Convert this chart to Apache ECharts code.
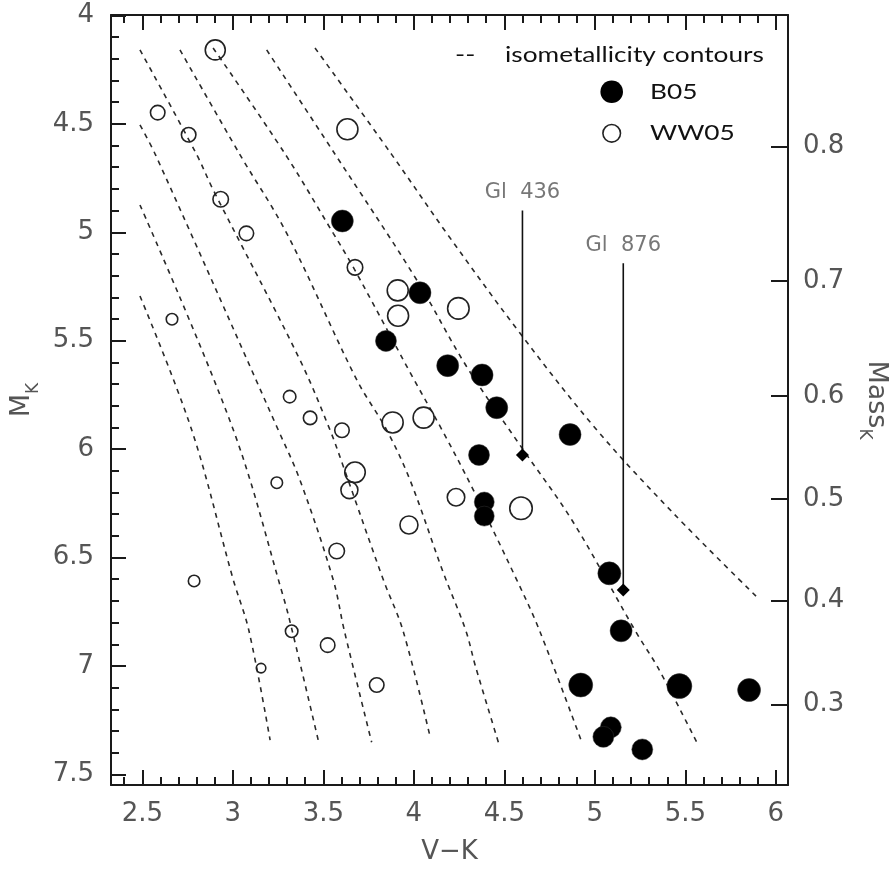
<!DOCTYPE html>
<html>
<head>
<meta charset="utf-8">
<script src="https://cdn.jsdelivr.net/npm/echarts@6/dist/echarts.min.js"></script>
<style>
html,body{margin:0;padding:0;background:#fff;}
#main{width:891px;height:871px;}
</style>
</head>
<body>
<div id="main"></div>
<script>
// ---------- axis ticks ----------
const xTickValues = [2.5, 3, 3.5, 4, 4.5, 5, 5.5, 6];
const yTickValues = [4, 4.5, 5, 5.5, 6, 6.5, 7, 7.5];
const massTickLabels = ['0.8', '0.7', '0.6', '0.5', '0.4', '0.3'];
const massTickMK = [4.605, 5.225, 5.754, 6.230, 6.699, 7.177];

// ---------- B05 (filled circles) ----------
const b05VK = [3.605, 4.034, 3.846, 4.187, 4.377, 4.458, 4.863, 4.360, 4.389, 4.389, 5.080, 5.145, 4.922, 5.467, 5.852, 5.088, 5.047, 5.262];
const b05MK = [4.948, 5.279, 5.501, 5.615, 5.658, 5.809, 5.933, 6.027, 6.244, 6.309, 6.573, 6.838, 7.088, 7.093, 7.111, 7.283, 7.327, 7.385];
const b05Marker = [22, 22, 21, 22, 22, 22, 22, 21, 20, 20, 23, 22, 24, 25, 23, 21, 21, 21];

// ---------- WW05 (open circles) ----------
const ww05VK = [2.903, 2.585, 2.756, 3.633, 2.933, 3.075, 3.675, 3.911, 3.913, 4.246, 2.664, 3.314, 3.427, 3.603, 3.883, 4.054, 3.675, 3.644, 3.243, 4.233, 4.592, 3.973, 3.574, 2.786, 3.325, 3.524, 3.156, 3.795];
const ww05MK = [4.159, 4.448, 4.550, 4.525, 4.848, 5.005, 5.162, 5.268, 5.385, 5.351, 5.401, 5.758, 5.856, 5.913, 5.877, 5.855, 6.107, 6.189, 6.155, 6.222, 6.273, 6.350, 6.470, 6.608, 6.840, 6.904, 7.010, 7.088];
const ww05Marker = [20, 14.5, 14.5, 21, 15.5, 14.5, 15.5, 21, 21, 21.5, 11.5, 12.5, 13.5, 14.5, 21, 21, 20.5, 17, 11.5, 17.5, 22.5, 18, 15.5, 11.5, 12.5, 14.5, 9.5, 14.5];

// ---------- highlighted stars ----------
const starNames = ['Gl  436', 'Gl  876'];
const starVK = [4.600, 5.157];
const starMK = [6.027, 6.650];
const starLabelMK = [4.900, 5.143];

// ---------- isometallicity contours ----------
const c1VK = [2.487, 2.773, 3.003, 3.088, 3.206];
const c1MK = [5.294, 5.912, 6.604, 6.834, 7.342];
const c2VK = [2.487, 3.003, 3.279, 3.327, 3.476];
const c2MK = [4.874, 5.912, 6.681, 6.834, 7.357];
const c3VK = [2.487, 2.573, 3.251, 3.371, 3.555, 3.615, 3.767];
const c3MK = [4.505, 4.643, 5.912, 6.143, 6.604, 6.834, 7.352];
const c4VK = [2.487, 2.801, 2.892, 3.371, 3.537, 3.611, 3.832, 3.939, 4.090];
const c4MK = [4.159, 4.643, 4.805, 5.589, 5.912, 6.081, 6.604, 6.834, 7.327];
const c5VK = [2.708, 3.040, 3.298, 3.685, 3.850, 3.979, 4.161, 4.286, 4.340, 4.467];
const c5MK = [4.159, 4.643, 5.005, 5.681, 5.912, 6.143, 6.566, 6.834, 7.000, 7.352];
const c6VK = [2.891, 3.292, 3.555, 3.664, 3.996, 4.156, 4.329, 4.569, 4.693, 4.928];
const c6MK = [4.150, 4.643, 5.005, 5.159, 5.672, 5.912, 6.189, 6.604, 6.834, 7.352];
const c7VK = [3.187, 3.567, 4.016, 4.292, 4.605, 4.873, 5.231, 5.350, 5.563];
const c7MK = [4.159, 4.643, 5.220, 5.620, 6.004, 6.327, 6.849, 7.010, 7.352];
const c8VK = [3.454, 3.879, 4.182, 4.587, 5.011, 5.434, 5.894];
const c8MK = [4.150, 4.643, 5.005, 5.466, 5.912, 6.296, 6.681];

const contourVK = [c1VK, c2VK, c3VK, c4VK, c5VK, c6VK, c7VK, c8VK];
const contourMK = [c1MK, c2MK, c3MK, c4MK, c5MK, c6MK, c7MK, c8MK];

// ---------- layout ----------
const XMIN = 2.327, XMAX = 6.067, YMIN = 3.998, YMAX = 7.549;
const TICKFONT = 'DejaVu Sans';
const TICKCOLOR = '#555';
const AXISCOLOR = '#1a1a1a';

function zip(a, b) { return a.map((v, i) => [v, b[i]]); }
function minorValues(lo, hi, majors) {
  const out = [];
  for (let k = Math.round(lo * 10); k <= Math.round(hi * 10); k++) {
    const v = k / 10;
    if (!majors.some(m => Math.abs(m - v) < 1e-6)) out.push(v);
  }
  return out;
}
const xMinor = minorValues(2.4, 6.0, xTickValues);
const yMinor = minorValues(4.1, 7.5, yTickValues);

function xAxisDef(pos, ticks, len, showLine, showLabel, extra) {
  return Object.assign({
    type: 'value', position: pos, min: XMIN, max: XMAX, gridIndex: 0,
    axisLine: { show: showLine, onZero: false, lineStyle: { color: AXISCOLOR, width: 2 } },
    axisTick: { show: true, inside: true, length: len, customValues: ticks, lineStyle: { color: AXISCOLOR, width: 2 } },
    axisLabel: showLabel ? { show: true, customValues: ticks, margin: 16, fontFamily: TICKFONT, fontSize: 26, color: TICKCOLOR, formatter: v => String(+v.toFixed(2)) } : { show: false },
    splitLine: { show: false }
  }, extra || {});
}
function yAxisDef(pos, ticks, len, showLine, labelOpt, extra) {
  return Object.assign({
    type: 'value', position: pos, min: YMIN, max: YMAX, inverse: true, gridIndex: 0,
    axisLine: { show: showLine, onZero: false, lineStyle: { color: AXISCOLOR, width: 2 } },
    axisTick: { show: true, inside: true, length: len, customValues: ticks, lineStyle: { color: AXISCOLOR, width: 2 } },
    axisLabel: labelOpt || { show: false },
    splitLine: { show: false }
  }, extra || {});
}

const dashStyle = { color: '#2a2a2a', width: 1.6, type: [5, 5] };

const series = [];
contourVK.forEach((vk, i) => {
  series.push({
    type: 'line', name: 'contour' + (i + 1), xAxisIndex: 0, yAxisIndex: 0,
    data: zip(vk, contourMK[i]), showSymbol: false, symbol: 'none', smooth: 0.35,
    lineStyle: dashStyle, silent: true, z: 1, animation: false
  });
});
// annotation leader lines
starVK.forEach((vk, i) => {
  series.push({
    type: 'line', name: 'lead' + i, xAxisIndex: 0, yAxisIndex: 0,
    data: [[vk, starLabelMK[i]], [vk, starMK[i]]], symbol: 'none',
    lineStyle: { color: '#111', width: 1.6, type: 'solid' }, silent: true, z: 2, animation: false
  });
});
series.push({
  type: 'scatter', name: 'B05', xAxisIndex: 0, yAxisIndex: 0,
  data: zip(b05VK, b05MK), symbol: 'circle',
  symbolSize: (v, p) => b05Marker[p.dataIndex],
  itemStyle: { color: '#000', opacity: 1, borderColor: '#333', borderWidth: 0.5 }, z: 4, animation: false
});
series.push({
  type: 'scatter', name: 'WW05', xAxisIndex: 0, yAxisIndex: 0,
  data: zip(ww05VK, ww05MK), symbol: 'circle',
  symbolSize: (v, p) => ww05Marker[p.dataIndex],
  itemStyle: { color: 'rgba(0,0,0,0)', opacity: 1, borderColor: '#222', borderWidth: 1.6 }, z: 3, animation: false
});
series.push({
  type: 'scatter', name: 'stars', xAxisIndex: 0, yAxisIndex: 0,
  data: zip(starVK, starMK), symbol: 'diamond', symbolSize: [13, 13],
  itemStyle: { color: '#000', opacity: 1 }, z: 4, animation: false
});
series.push({
  type: 'scatter', name: 'starLabels', xAxisIndex: 0, yAxisIndex: 0,
  data: starVK.map((vk, i) => ({ value: [vk, starLabelMK[i]], name: starNames[i] })),
  symbol: 'circle', symbolSize: 1, itemStyle: { color: 'rgba(0,0,0,0)' },
  label: { show: true, position: 'top', distance: 7, formatter: p => p.name, fontFamily: TICKFONT, fontSize: 21, color: '#555' },
  z: 4, animation: false, silent: true
});

const nameRich = {
  m: { fontFamily: TICKFONT, fontSize: 27, color: TICKCOLOR, lineHeight: 40, verticalAlign: 'middle' },
  s: { fontFamily: TICKFONT, fontSize: 17, color: TICKCOLOR, lineHeight: 17, verticalAlign: 'bottom' }
};

const legendFont = '21px Lato';
const option = {
  backgroundColor: '#fff',
  animation: false,
  grid: { left: 111, top: 15, width: 677, height: 770, containLabel: false, outerBoundsMode: 'none' },
  xAxis: [
    xAxisDef('bottom', xTickValues, 15, true, true, {
      name: 'V\u2212K', nameLocation: 'middle', nameGap: 54,
      nameTextStyle: { fontFamily: TICKFONT, fontSize: 26, color: TICKCOLOR }
    }),
    xAxisDef('bottom', xMinor, 8, false, false),
    xAxisDef('top', xTickValues, 15, true, false),
    xAxisDef('top', xMinor, 8, false, false)
  ],
  yAxis: [
    yAxisDef('left', yTickValues, 15, true, {
      show: true, customValues: yTickValues, margin: 17, fontFamily: TICKFONT, fontSize: 26, color: TICKCOLOR,
      formatter: v => String(+v.toFixed(2))
    }, {
      name: '{m|M}{s|K}', nameLocation: 'middle', nameGap: 66, nameRotate: 90,
      nameTextStyle: { rich: nameRich }
    }),
    yAxisDef('left', yMinor, 8, false, null),
    yAxisDef('right', massTickMK, 17, true, {
      show: true, customValues: massTickMK, margin: 15, fontFamily: TICKFONT, fontSize: 26, color: TICKCOLOR,
      formatter: v => {
        let best = 0;
        massTickMK.forEach((m, i) => { if (Math.abs(m - v) < Math.abs(massTickMK[best] - v)) best = i; });
        return massTickLabels[best];
      }
    }, {
      name: '{m|Mass}{s|K}', nameLocation: 'middle', nameGap: 68, nameRotate: -90,
      nameTextStyle: { rich: nameRich }
    })
  ],
  series: series,
  graphic: [
    { type: 'text', x: 455, y: 55, scaleX: 1.3, style: { text: '--', font: legendFont, fill: '#111', align: 'left', verticalAlign: 'middle' } },
    { type: 'text', x: 505, y: 55, scaleX: 1.25, style: { text: 'isometallicity contours', font: legendFont, fill: '#111', align: 'left', verticalAlign: 'middle' } },
    { type: 'circle', shape: { cx: 611.7, cy: 91.7, r: 11.3 }, style: { fill: '#000' } },
    { type: 'text', x: 650, y: 92, scaleX: 1.25, style: { text: 'B05', font: legendFont, fill: '#111', align: 'left', verticalAlign: 'middle' } },
    { type: 'circle', shape: { cx: 611.7, cy: 133.3, r: 8.8 }, style: { fill: 'none', stroke: '#222', lineWidth: 1.6 } },
    { type: 'text', x: 650, y: 133, scaleX: 1.25, style: { text: 'WW05', font: legendFont, fill: '#111', align: 'left', verticalAlign: 'middle' } }
  ]
};

const chart = echarts.init(document.getElementById('main'), null, { renderer: 'canvas' });
chart.setOption(option);
</script>
</body>
</html>
